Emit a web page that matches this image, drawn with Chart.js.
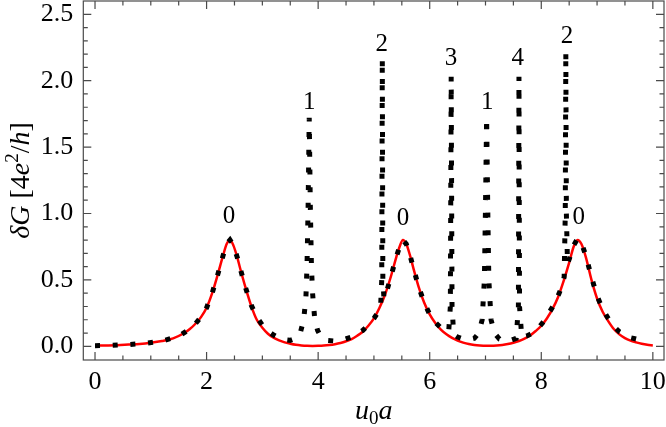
<!DOCTYPE html>
<html>
<head>
<meta charset="utf-8">
<script src="https://cdn.jsdelivr.net/npm/chart.js@4.4.1/dist/chart.umd.min.js"></script>
<style>
  html, body { margin: 0; padding: 0; background: #fff; }
  #wrap { width: 666px; height: 427px; }
</style>
</head>
<body>
<div id="wrap"><canvas id="chart" width="666" height="427"></canvas></div>
<script>
// red curve (smooth background, three resonances)
const redX = [0.0, 0.2, 0.4, 0.6, 0.8, 1.0, 1.2, 1.4, 1.6, 1.7, 1.8, 1.9, 2.0, 2.1, 2.2, 2.3, 2.36, 2.42, 2.48, 2.55, 2.6, 2.7, 2.8, 2.9, 3.0, 3.1, 3.2, 3.3, 3.4, 3.5, 3.6, 3.7, 3.8, 3.9, 4.0, 4.1, 4.2, 4.3, 4.4, 4.5, 4.6, 4.7, 4.8, 4.9, 5.0, 5.1, 5.2, 5.3, 5.4, 5.46, 5.52, 5.58, 5.65, 5.7, 5.8, 5.9, 6.0, 6.1, 6.2, 6.3, 6.4, 6.5, 6.6, 6.7, 6.8, 6.9, 7.0, 7.1, 7.2, 7.3, 7.4, 7.5, 7.6, 7.7, 7.8, 7.9, 8.0, 8.1, 8.2, 8.3, 8.4, 8.5, 8.58, 8.65, 8.72, 8.8, 8.9, 9.0, 9.1, 9.2, 9.3, 9.4, 9.5, 9.6, 9.7, 9.8, 9.9, 10.0];
const redY = [0.005, 0.006, 0.008, 0.013, 0.018, 0.027, 0.04, 0.06, 0.1, 0.13, 0.17, 0.22, 0.29, 0.40, 0.54, 0.69, 0.77, 0.80, 0.76, 0.67, 0.59, 0.44, 0.305, 0.20, 0.14, 0.095, 0.065, 0.045, 0.03, 0.02, 0.012, 0.007, 0.004, 0.003, 0.004, 0.006, 0.01, 0.016, 0.025, 0.038, 0.055, 0.08, 0.11, 0.155, 0.21, 0.29, 0.39, 0.52, 0.67, 0.75, 0.80, 0.77, 0.68, 0.6, 0.45, 0.33, 0.24, 0.175, 0.125, 0.09, 0.063, 0.043, 0.028, 0.017, 0.01, 0.006, 0.004, 0.004, 0.006, 0.01, 0.017, 0.027, 0.04, 0.058, 0.082, 0.115, 0.155, 0.21, 0.28, 0.37, 0.49, 0.63, 0.75, 0.80, 0.77, 0.67, 0.5, 0.36, 0.26, 0.19, 0.13, 0.09, 0.062, 0.043, 0.03, 0.019, 0.011, 0.006];

// dotted curve (with the narrow spikes)
const dotX = [0.0, 0.3, 0.6, 0.9, 1.2, 1.5, 1.7, 1.8, 1.9, 2.0, 2.1, 2.2, 2.3, 2.36, 2.42, 2.48, 2.55, 2.6, 2.7, 2.8, 2.9, 3.0, 3.1, 3.2, 3.3, 3.4, 3.5, 3.6, 3.68, 3.74, 3.78, 3.8, 3.82, 3.84, 3.86, 3.88, 3.9, 3.94, 3.99, 4.05, 4.15, 4.3, 4.45, 4.6, 4.7, 4.8, 4.9, 5.0, 5.08, 5.12, 5.14, 5.15, 5.16, 5.18, 5.22, 5.3, 5.4, 5.46, 5.52, 5.58, 5.65, 5.7, 5.8, 5.9, 6.0, 6.1, 6.2, 6.28, 6.34, 6.37, 6.385, 6.4, 6.43, 6.5, 6.6, 6.7, 6.8, 6.88, 6.94, 6.98, 7.0, 7.02, 7.04, 7.06, 7.1, 7.16, 7.25, 7.35, 7.45, 7.55, 7.59, 7.6, 7.61, 7.65, 7.75, 7.85, 7.95, 8.05, 8.15, 8.25, 8.35, 8.41, 8.43, 8.44, 8.45, 8.47, 8.52, 8.58, 8.65, 8.72, 8.8, 8.9, 9.0, 9.1, 9.2, 9.3, 9.4, 9.5, 9.6, 9.7, 9.8, 9.9];
const dotY = [0.005, 0.007, 0.013, 0.022, 0.04, 0.075, 0.13, 0.17, 0.22, 0.29, 0.40, 0.54, 0.69, 0.77, 0.80, 0.76, 0.67, 0.59, 0.44, 0.31, 0.22, 0.16, 0.115, 0.085, 0.062, 0.05, 0.045, 0.06, 0.1, 0.2, 0.36, 0.6, 1.05, 1.72, 1.05, 0.6, 0.4, 0.2, 0.12, 0.07, 0.045, 0.04, 0.05, 0.07, 0.095, 0.12, 0.16, 0.21, 0.26, 0.3, 0.5, 2.17, 0.5, 0.36, 0.40, 0.52, 0.67, 0.75, 0.80, 0.77, 0.68, 0.6, 0.45, 0.33, 0.24, 0.18, 0.14, 0.12, 0.11, 0.3, 2.03, 0.3, 0.09, 0.07, 0.055, 0.05, 0.06, 0.1, 0.2, 0.5, 1.05, 1.72, 1.05, 0.5, 0.2, 0.1, 0.055, 0.045, 0.045, 0.06, 0.3, 2.03, 0.3, 0.07, 0.08, 0.1, 0.14, 0.19, 0.26, 0.33, 0.43, 0.52, 1.0, 2.22, 1.0, 0.62, 0.68, 0.76, 0.81, 0.78, 0.68, 0.52, 0.38, 0.28, 0.21, 0.15, 0.11, 0.085, 0.065, 0.055, 0.05, 0.048];

// peak annotations
const peakText = ["0", "1", "2", "0", "3", "1", "4", "2", "0"];
const peakX = [2.40, 3.84, 5.14, 5.52, 6.38, 7.03, 7.58, 8.46, 8.67];
const peakY = [0.98, 1.84, 2.27, 0.96, 2.17, 1.84, 2.17, 2.33, 0.97];

const xTicks = [0, 2, 4, 6, 8, 10];
const yTicks = [0, 0.5, 1.0, 1.5, 2.0, 2.5];

const SERIF = "'Liberation Serif', 'DejaVu Serif', serif";

// frame with inward ticks on all four sides
const framePlugin = {
  id: "frame",
  afterDraw(chart) {
    const { ctx, chartArea: a, scales: { x, y } } = chart;
    ctx.save();
    ctx.strokeStyle = "#4a4a4a";
    ctx.lineWidth = 1.2;
    ctx.strokeRect(a.left, a.top, a.right - a.left, a.bottom - a.top);
    ctx.beginPath();
    for (let v = 0; v <= 10.001; v += 0.5) {
      const px = x.getPixelForValue(v);
      const len = Math.abs(v / 2 - Math.round(v / 2)) < 1e-6 ? 8 : 4.5;
      ctx.moveTo(px, a.bottom); ctx.lineTo(px, a.bottom - len);
      ctx.moveTo(px, a.top); ctx.lineTo(px, a.top + len);
    }
    for (let i = 0; i <= 25; i++) {
      const py = y.getPixelForValue(i / 10);
      const len = i % 5 === 0 ? 8 : 4.5;
      ctx.moveTo(a.left, py); ctx.lineTo(a.left + len, py);
      ctx.moveTo(a.right, py); ctx.lineTo(a.right - len, py);
    }
    ctx.stroke();
    ctx.restore();
  }
};

// peak numbers and axis titles
const textPlugin = {
  id: "texts",
  afterDraw(chart) {
    const { ctx, chartArea: a, scales: { x, y } } = chart;
    ctx.save();
    ctx.fillStyle = "#000";
    ctx.font = "25px " + SERIF;
    ctx.textAlign = "center";
    ctx.textBaseline = "middle";
    peakText.forEach((t, i) => {
      ctx.fillText(t, x.getPixelForValue(peakX[i]), y.getPixelForValue(peakY[i]));
    });

    // x title: u0a
    ctx.textAlign = "left";
    ctx.textBaseline = "alphabetic";
    const xParts = [
      ["italic 28px " + SERIF, "u", 0],
      ["19px " + SERIF, "0", 5],
      ["italic 28px " + SERIF, "a", 0]
    ];
    drawParts(ctx, xParts, (a.left + a.right) / 2, 419);

    // y title: δG [4e²/h]
    ctx.save();
    ctx.translate(29, (a.top + a.bottom) / 2);
    ctx.rotate(-Math.PI / 2);
    const yParts = [
      ["italic 28px " + SERIF, "δG", 0],
      ["28px " + SERIF, " [4", 0],
      ["italic 28px " + SERIF, "e", 0],
      ["19px " + SERIF, "2", -11],
      ["28px " + SERIF, "/", 0],
      ["italic 28px " + SERIF, "h", 0],
      ["28px " + SERIF, "]", 0]
    ];
    drawParts(ctx, yParts, 0, 0);
    ctx.restore();
    ctx.restore();
  }
};

function drawParts(ctx, parts, cx, baseY) {
  let w = 0;
  parts.forEach(p => { ctx.font = p[0]; w += ctx.measureText(p[1]).width; });
  let px = cx - w / 2;
  parts.forEach(p => {
    ctx.font = p[0];
    ctx.fillText(p[1], px, baseY + p[2]);
    px += ctx.measureText(p[1]).width;
  });
}

const toPoints = (xs, ys) => xs.map((v, i) => ({ x: v, y: ys[i] }));

new Chart(document.getElementById("chart"), {
  type: "line",
  data: {
    datasets: [
      {
        data: toPoints(dotX, dotY),
        borderColor: "#000",
        borderWidth: 5,
        borderDash: [5, 12.7],
        borderCapStyle: "butt",
        pointRadius: 0,
        tension: 0,
        fill: false
      },
      {
        data: toPoints(redX, redY),
        borderColor: "#ff0000",
        borderWidth: 2.5,
        pointRadius: 0,
        cubicInterpolationMode: "monotone",
        fill: false
      }
    ]
  },
  options: {
    responsive: false,
    animation: false,
    events: [],
    layout: { padding: { top: 1, right: 2, left: 0, bottom: 0 } },
    plugins: { legend: { display: false }, tooltip: { enabled: false } },
    scales: {
      x: {
        type: "linear",
        min: -0.21,
        max: 10.2,
        afterBuildTicks: s => { s.ticks = xTicks.map(v => ({ value: v })); },
        afterFit: s => { s.height = 67; s.paddingLeft = 0; s.paddingRight = 0; },
        grid: { display: false, drawTicks: false },
        border: { display: false },
        ticks: {
          font: { family: SERIF, size: 26 },
          color: "#000",
          padding: 7,
          maxRotation: 0
        }
      },
      y: {
        type: "linear",
        min: -0.103,
        max: 2.6,
        afterBuildTicks: s => { s.ticks = yTicks.map(v => ({ value: v })); },
        afterFit: s => { s.width = 83.3; s.paddingTop = 0; s.paddingBottom = 0; },
        grid: { display: false, drawTicks: false },
        border: { display: false },
        ticks: {
          font: { family: SERIF, size: 26 },
          color: "#000",
          padding: 10,
          callback: v => v.toFixed(1)
        }
      }
    }
  },
  plugins: [framePlugin, textPlugin]
});
</script>
</body>
</html>
